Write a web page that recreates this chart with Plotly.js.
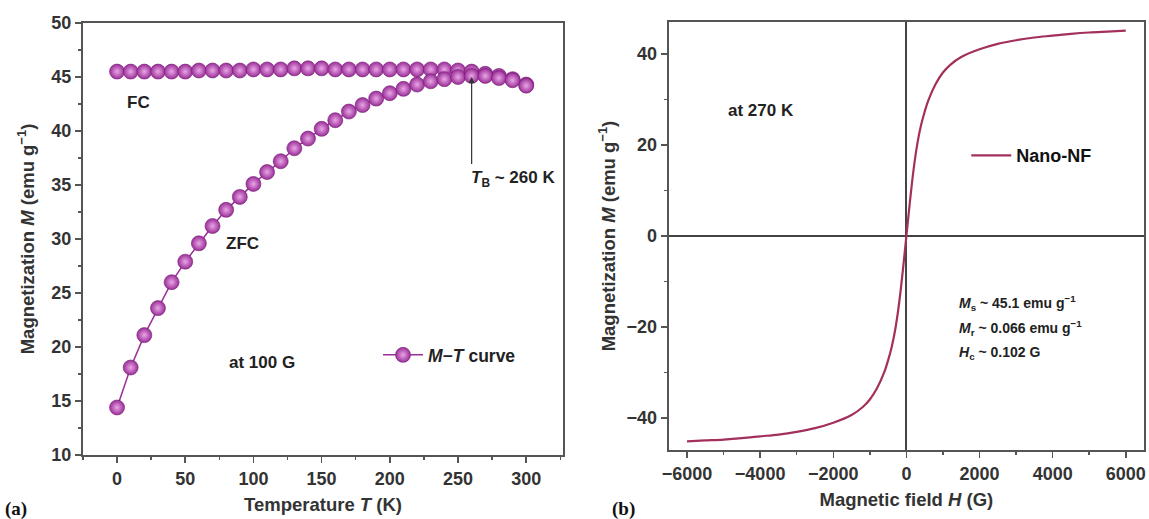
<!DOCTYPE html>
<html><head><meta charset="utf-8">
<script src="https://cdn.plot.ly/plotly-3.0.1.min.js"></script>
<style>html,body{margin:0;padding:0;background:#fff}#c{width:1149px;height:519px}</style>
</head><body><div id="c"></div>
<script>
// Panel (a): M-T curve
const tempK = [0,10,20,30,40,50,60,70,80,90,100,110,120,130,140,150,160,170,180,190,200,210,220,230,240,250,260,270,280,290,300];
const mFC  = [45.5,45.5,45.5,45.5,45.5,45.5,45.6,45.6,45.6,45.6,45.7,45.7,45.7,45.8,45.8,45.8,45.7,45.7,45.7,45.7,45.7,45.7,45.7,45.7,45.7,45.6,45.5,45.3,45.1,44.8,44.3];
const mZFC = [14.4,18.1,21.1,23.6,26.0,27.9,29.6,31.2,32.7,33.9,35.1,36.2,37.2,38.4,39.3,40.2,41.0,41.8,42.4,43.0,43.5,43.9,44.3,44.6,44.8,45.0,45.1,45.1,44.9,44.7,44.2];
// Panel (b): M-H loop at 270 K
const fieldG = [-6000,-5500,-5000,-4500,-4000,-3500,-3000,-2500,-2000,-1500,-1200,-1000,-800,-600,-500,-400,-300,-200,-100,0,100,200,300,400,500,600,800,1000,1200,1500,2000,2500,3000,3500,4000,4500,5000,5500,6000];
const mH   = [-45.1,-44.9,-44.7,-44.4,-44.0,-43.6,-43.0,-42.2,-41.0,-39.3,-37.6,-35.9,-33.4,-29.8,-27.3,-24.3,-20.3,-14.8,-7.8,0.0,7.8,14.8,20.3,24.3,27.3,29.8,33.4,35.9,37.6,39.3,41.0,42.2,43.0,43.6,44.0,44.4,44.7,44.9,45.1];
const xTicksA = [0,50,100,150,200,250,300];
const yTicksA = [10,15,20,25,30,35,40,45,50];
const xTicksB = [-6000,-4000,-2000,0,2000,4000,6000];
const yTicksB = [-40,-20,0,20,40];

const purple = '#9a2e98';
const mk = {size:15, color:purple, line:{color:'#741c72', width:0.6}, gradient:{type:'radial', color:'#eaa6e6'}};
const fam = 'Arial, Liberation Sans, sans-serif';
const tickFont = {family:fam, size:18, color:'#333', weight:'bold'};
const titleFont = {family:fam, size:18.5, color:'#333', weight:'bold'};
const annFont = {family:fam, size:17, color:'#222', weight:'bold'};
const smallFont = {family:fam, size:14, color:'#222', weight:'bold'};

const traces = [
  {x:tempK, y:mFC, mode:'lines+markers', line:{color:purple, width:1.5}, marker:mk, name:'<i>M</i>\u2212<i>T</i> curve', xaxis:'x', yaxis:'y', legend:'legend', showlegend:true},
  {x:tempK, y:mZFC, mode:'lines+markers', line:{color:purple, width:1.5}, marker:mk, xaxis:'x', yaxis:'y', showlegend:false},
  {x:fieldG, y:mH, mode:'lines', line:{color:'#a3305c', width:2.2, shape:'spline'}, name:'Nano-NF', xaxis:'x2', yaxis:'y2', legend:'legend2', showlegend:true}
];

const axCommon = {showgrid:false, zeroline:false, showline:true, linecolor:'#555', linewidth:2, mirror:true, ticks:'outside', ticklen:6, tickwidth:1.5, tickcolor:'#555', tickfont:tickFont};
const layout = {
  width:1149, height:519, margin:{l:0,r:0,t:0,b:0}, paper_bgcolor:'#fff', plot_bgcolor:'#fff',
  xaxis: Object.assign({}, axCommon, {domain:[0.0722,0.49], range:[-25,327], tickvals:xTicksA, minor:{dtick:25, tick0:0, ticks:'outside', ticklen:3, tickcolor:'#555'}, title:{text:'Temperature <i>T</i> (K)', font:titleFont, standoff:10}, anchor:'y'}),
  yaxis: Object.assign({}, axCommon, {domain:[0.1233,0.9557], range:[10,50], tickvals:yTicksA, minor:{dtick:2.5, tick0:0, ticks:'outside', ticklen:3, tickcolor:'#555'}, title:{text:'Magnetization <i>M</i> (emu g<sup>\u22121</sup>)', font:titleFont, standoff:12}, anchor:'x'}),
  xaxis2: Object.assign({}, axCommon, {domain:[0.582,0.9957], range:[-6500,6500], tickvals:xTicksB, minor:{dtick:1000, tick0:0, ticks:'outside', ticklen:3, tickcolor:'#555'}, title:{text:'Magnetic field <i>H</i> (G)', font:titleFont, standoff:10}, anchor:'y2', zeroline:true, zerolinecolor:'#444', zerolinewidth:2}),
  yaxis2: Object.assign({}, axCommon, {domain:[0.1329,0.9576], range:[-47,47], tickvals:yTicksB, minor:{dtick:10, tick0:0, ticks:'outside', ticklen:3, tickcolor:'#555'}, title:{text:'Magnetization <i>M</i> (emu g<sup>\u22121</sup>)', font:titleFont, standoff:6}, anchor:'x2', zeroline:true, zerolinecolor:'#444', zerolinewidth:2}),
  legend:{x:0.329, y:0.316, xanchor:'left', yanchor:'middle', itemwidth:40, bgcolor:'rgba(0,0,0,0)', font:{family:fam, size:17.5, color:'#222', weight:'bold'}},
  legend2:{x:0.841, y:0.70, xanchor:'left', yanchor:'middle', itemwidth:40, bgcolor:'rgba(0,0,0,0)', font:{family:fam, size:18, color:'#111', weight:'bold'}},
  annotations:[
    {xref:'x', yref:'y', x:16, y:42.6, text:'FC', showarrow:false, font:annFont},
    {xref:'x', yref:'y', x:92, y:29.6, text:'ZFC', showarrow:false, font:annFont},
    {xref:'x', yref:'y', x:106, y:18.6, text:'at 100 G', showarrow:false, font:annFont},
    {xref:'x', yref:'y', x:290, y:35.6, text:'<i>T</i><sub>B</sub> ~ 260 K', showarrow:false, font:annFont},
    {xref:'x', yref:'y', x:260, y:45.0, axref:'x', ayref:'y', ax:260, ay:36.8, text:'', showarrow:true, arrowhead:2, arrowsize:1, arrowwidth:1.2, arrowcolor:'#333'},
    {xref:'x2', yref:'y2', x:-3980, y:27.5, text:'at 270 K', showarrow:false, font:annFont},
    {xref:'x2', yref:'y2', x:1373, y:-14.7, xanchor:'left', text:'<i>M</i><sub>s</sub> ~ 45.1 emu g<sup>\u22121</sup>', showarrow:false, font:smallFont},
    {xref:'x2', yref:'y2', x:1373, y:-20.2, xanchor:'left', text:'<i>M</i><sub>r</sub> ~ 0.066 emu g<sup>\u22121</sup>', showarrow:false, font:smallFont},
    {xref:'x2', yref:'y2', x:1373, y:-25.6, xanchor:'left', text:'<i>H</i><sub>c</sub> ~ 0.102 G', showarrow:false, font:smallFont},
    {xref:'paper', yref:'paper', x:0.003, y:-0.005, xanchor:'left', yanchor:'bottom', text:'(a)', showarrow:false, font:{family:'Liberation Serif, Times New Roman, serif', size:19, color:'#111', weight:'bold'}},
    {xref:'paper', yref:'paper', x:0.531, y:-0.005, xanchor:'left', yanchor:'bottom', text:'(b)', showarrow:false, font:{family:'Liberation Serif, Times New Roman, serif', size:19, color:'#111', weight:'bold'}}
  ]
};
Plotly.newPlot('c', traces, layout, {displayModeBar:false, staticPlot:true});
</script></body></html>
